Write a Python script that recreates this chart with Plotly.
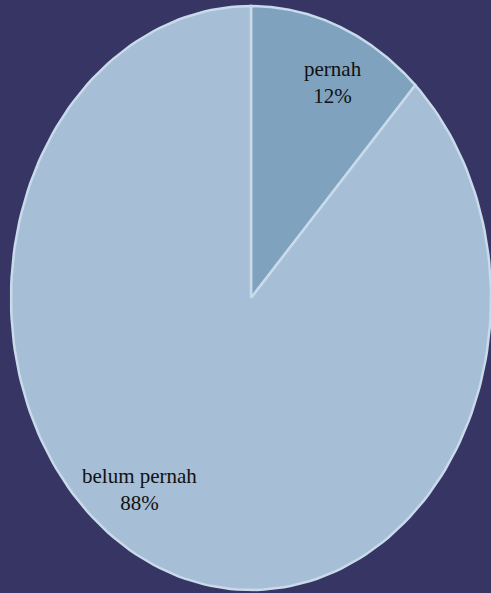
import numpy as np
import plotly.graph_objects as go

labels = ["pernah", "belum pernah"]
values = [12, 88]
colors = ["#7FA2BE", "#A6BED6"]

W, H = 491, 593
cx, cy, rx, ry = 251, 298, 240, 292  # ellipse in pixels (layout)

fig = go.Figure()
total = sum(values)
start = 0.0
for lab, v, c in zip(labels, values, colors):
    a0 = start / total * 2 * np.pi
    a1 = (start + v) / total * 2 * np.pi
    t = np.linspace(a0, a1, 200)
    xs = np.concatenate([[0], np.sin(t), [0]])
    ys = np.concatenate([[0], np.cos(t), [0]])
    fig.add_trace(go.Scatter(x=xs, y=ys, fill="toself", fillcolor=c, mode="lines",
                             line=dict(color="#C9DBEB", width=2.5), hoverinfo="skip",
                             showlegend=False))
    start += v

# label positions (unit-ellipse coordinates)
label_pos = [(0.343, 0.738), (-0.465, -0.655)]
for lab, v, (lx, ly) in zip(labels, values, label_pos):
    fig.add_annotation(x=lx, y=ly, text=f"{lab}<br>{v}%", showarrow=False,
                       font=dict(family="Liberation Serif, DejaVu Serif, serif", size=21, color="#111111"),
                       align="center")

fig.update_xaxes(range=[-cx / rx, (W - cx) / rx], visible=False, fixedrange=True)
fig.update_yaxes(range=[-(H - cy) / ry, cy / ry], visible=False, fixedrange=True)
fig.update_layout(width=W, height=H, margin=dict(l=0, r=0, t=0, b=0),
                  paper_bgcolor="#363564", plot_bgcolor="#363564")
fig.write_html("out.html", config={"displayModeBar": False},
               post_script="document.body.style.margin='0';document.body.style.overflow='hidden';")
